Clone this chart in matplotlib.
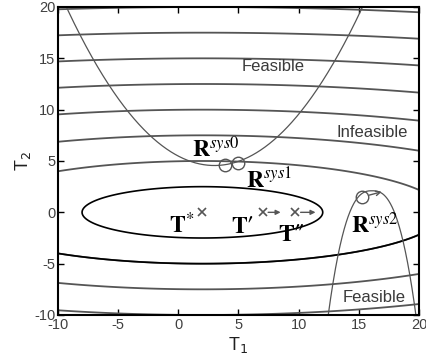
import numpy as np
import matplotlib
matplotlib.use("Agg")
import matplotlib.pyplot as plt

# ---- data ----
x_ticks = [-10, -5, 0, 5, 10, 15, 20]
y_ticks = [-10, -5, 0, 5, 10, 15, 20]
obj_center = (2.0, 0.0)          # T* (minimum of the objective)
obj_xstretch = 4.0               # ellipses are 4x wider than tall
obj_levels = [2.5, 5.0, 7.5, 10.0, 12.5, 15.0, 17.5, 20.0]
black_levels = [2.5]             # full black ellipse
black_lower_levels = [5.0]       # black only below the centre

upper_vertex = (3.0, 4.56)       # upward constraint parabola
upper_curv = 0.102
lower_apex = (16.1, 2.1)         # downward constraint curve
lower_k = 0.42
lower_p = 2.6

T_star = (2.0, 0.0)
T_prime = (7.0, 0.0)
T_prime_to = (8.5, 0.0)
T_dprime = (9.7, 0.0)
T_dprime_to = (11.4, 0.0)
R_sys0 = (3.9, 4.6)
R_sys1 = (5.0, 4.8)
R_sys2 = (15.3, 1.5)
R_sys2_to = (16.9, 2.0)

region_labels = ["Feasible", "Infeasible", "Feasible"]
region_pos = [(7.85, 14.2), (16.15, 7.75), (16.3, -8.3)]

GRAY = "#555555"

fig = plt.figure(figsize=(4.26, 3.56), dpi=100)
ax = fig.add_axes([58/426, 1-315/356, (419-58)/426, (315-7)/356])

# objective contours
xg = np.linspace(-10, 20, 601)
yg = np.linspace(-10, 20, 601)
X, Y = np.meshgrid(xg, yg)
Z = np.sqrt(((X - obj_center[0]) / obj_xstretch) ** 2 + (Y - obj_center[1]) ** 2)
gray_levels = [l for l in obj_levels if l not in black_levels]
ax.contour(X, Y, Z, levels=gray_levels, colors=GRAY, linewidths=1.3)
ax.contour(X, Y, Z, levels=black_levels, colors="black", linewidths=1.2)
mask = yg <= 0
ax.contour(X[mask], Y[mask], Z[mask], levels=black_lower_levels, colors="black", linewidths=1.2)

# constraint curves
xc = np.linspace(-10, 20, 800)
yu = upper_curv * (xc - upper_vertex[0]) ** 2 + upper_vertex[1]
ax.plot(xc, yu, color=GRAY, lw=0.9)
xl = np.linspace(12.0, 20.0, 800)
yl = lower_apex[1] - lower_k * np.abs(xl - lower_apex[0]) ** lower_p
ax.plot(xl, yl, color=GRAY, lw=0.9)

# markers
for p in (T_star, T_prime, T_dprime):
    ax.plot(*p, marker="x", color=GRAY, ms=5.5, mew=1.2, ls="none")
for p in (R_sys0, R_sys1, R_sys2):
    ax.plot(*p, marker="o", mfc="none", mec=GRAY, ms=9, mew=1.0, ls="none")

arrow_kw = dict(arrowstyle="-|>", color=GRAY, lw=1.0, mutation_scale=7,
                shrinkA=4, shrinkB=0)
ax.annotate("", xy=T_prime_to, xytext=T_prime, arrowprops=arrow_kw)
ax.annotate("", xy=T_dprime_to, xytext=T_dprime, arrowprops=arrow_kw)
ax.annotate("", xy=R_sys2_to, xytext=R_sys2,
            arrowprops=dict(arrowstyle="->", color=GRAY, lw=1.0,
                            mutation_scale=8, shrinkA=5, shrinkB=0))

# math labels
mkw = dict(fontsize=17, math_fontfamily="stix", color="black")
ax.text(1.1, 5.35, r"$\mathbf{R}^{sys0}$", ha="left", va="baseline", **mkw)
ax.text(5.6, 2.35, r"$\mathbf{R}^{sys1}$", ha="left", va="baseline", **mkw)
ax.text(14.35, -2.0, r"$\mathbf{R}^{sys2}$", ha="left", va="baseline", **mkw)
ax.text(-0.76, -2.0, r"$\mathbf{T}^{*}$", ha="left", va="baseline", **mkw)
tkw = dict(fontsize=17, family="STIXGeneral", weight="bold", color="black",
           ha="left", va="baseline")
ax.text(4.4, -2.0, "T\u2032", **tkw)
ax.text(8.3, -2.8, "T\u2033", **tkw)

for lab, (tx, ty) in zip(region_labels, region_pos):
    ax.text(tx, ty, lab, ha="center", va="center", fontsize=12,
            family="Liberation Sans", color="#3a3a3a")

ax.set_xlim(-10, 20)
ax.set_ylim(-10, 20)
ax.set_xticks(x_ticks)
ax.set_yticks(y_ticks)
ax.set_xticklabels([str(t) for t in x_ticks])
ax.set_yticklabels([str(t) for t in y_ticks])
ax.tick_params(direction="in", length=4, width=1, top=True, right=True,
               labelsize=10.5, labelcolor="#404040", pad=2)
for lbl in ax.get_xticklabels() + ax.get_yticklabels():
    lbl.set_family("Liberation Sans")
for s in ax.spines.values():
    s.set_linewidth(1.5)
    s.set_color("black")

ax.set_xlabel(r"T$_1$", fontsize=13, family="Liberation Sans",
              math_fontfamily="dejavusans", labelpad=2, color="#202020")
ax.set_ylabel(r"T$_2$", fontsize=13, family="Liberation Sans",
              math_fontfamily="dejavusans", labelpad=1, color="#202020")

fig.savefig("out.png", dpi=100)
